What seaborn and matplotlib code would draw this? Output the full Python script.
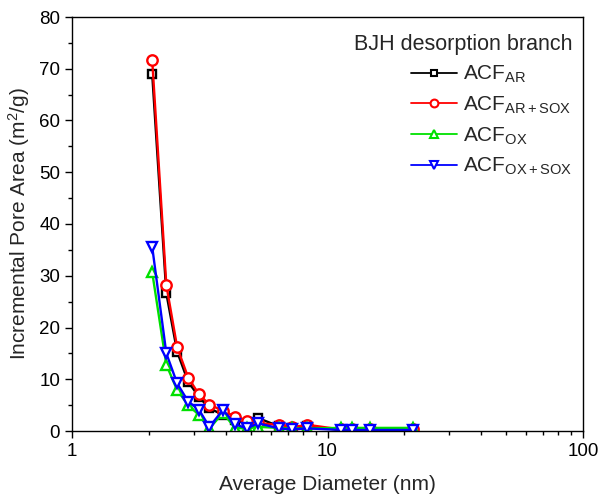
import numpy as np
import pandas as pd
import seaborn as sns
import matplotlib
matplotlib.use("Agg")
import matplotlib.pyplot as plt
from matplotlib.ticker import LogLocator, FixedLocator, FuncFormatter, MultipleLocator

# pore diameters (nm)
diameter = [2.06, 2.34, 2.58, 2.85, 3.14, 3.45, 3.90, 4.34, 4.84, 5.35,
            6.46, 7.24, 8.34, 11.3, 12.5, 14.7, 21.7]

# incremental pore area (m2/g)
acf_ar = [69.0, 26.6, 15.3, 9.5, 6.6, 4.4, 3.1, 2.2, 1.3, 2.5,
          0.9, 0.6, 0.9, 0.2, 0.2, 0.2, 0.2]
acf_ar_sox = [71.7, 28.2, 16.2, 10.3, 7.1, 5.1, 3.9, 2.8, 2.0, 1.5,
              1.2, 0.7, 1.2, 0.3, 0.3, 0.3, 0.3]
acf_ox = [30.7, 12.8, 7.9, 5.0, 3.1, 0.5, 3.5, 0.6, 0.5, 0.8,
          0.6, 0.5, 0.5, 0.6, 0.6, 0.6, 0.6]
acf_ox_sox = [35.6, 15.0, 9.2, 5.7, 4.1, 0.8, 4.1, 1.3, 0.5, 1.5,
              0.5, 0.3, 0.5, 0.2, 0.2, 0.2, 0.2]

labels = [r"ACF$_{\mathrm{AR}}$", r"ACF$_{\mathrm{AR+SOX}}$",
          r"ACF$_{\mathrm{OX}}$", r"ACF$_{\mathrm{OX+SOX}}$"]
colors = ["black", "red", "#00e000", "blue"]
markers = ["s", "o", "^", "v"]
msizes = [6, 7.5, 7.5, 7.5]

sns.set_style("ticks")
plt.rcParams["font.family"] = ["Liberation Sans", "DejaVu Sans"]
plt.rcParams["mathtext.fontset"] = "custom"
plt.rcParams["mathtext.rm"] = "Liberation Sans"
plt.rcParams["mathtext.it"] = "Liberation Sans:italic"
plt.rcParams["axes.linewidth"] = 1.0

fig = plt.figure(figsize=(6.01, 4.98), dpi=100)
ax = fig.add_axes([72 / 601, 1 - 431 / 498, (583 - 72) / 601, (431 - 17) / 498])

series = [acf_ar, acf_ar_sox, acf_ox, acf_ox_sox]
for ys, lab, c, m, ms in zip(series, labels, colors, markers, msizes):
    sns.lineplot(x=diameter, y=ys, ax=ax, color=c, marker=m, markersize=ms,
                 mfc="white", mec=c, mew=1.7, lw=1.7, label=lab,
                 sort=False, errorbar=None)

ax.set_xscale("log")
ax.set_xlim(1, 100)
ax.set_ylim(0, 80)
ax.xaxis.set_major_locator(FixedLocator([1, 10, 100]))
ax.xaxis.set_major_formatter(FuncFormatter(lambda v, p: f"{v:g}"))
ax.xaxis.set_minor_locator(LogLocator(base=10, subs=np.arange(2, 10)))
ax.xaxis.set_minor_formatter(plt.NullFormatter())
ax.yaxis.set_major_locator(MultipleLocator(10))
ax.yaxis.set_minor_locator(MultipleLocator(5))

ax.tick_params(which="both", direction="out", top=False, right=False,
               labelsize=13.5, colors="black", width=1.0)
ax.tick_params(which="major", length=5)
ax.tick_params(which="minor", length=3)
for s in ax.spines.values():
    s.set_visible(True)
    s.set_color("black")

ax.set_xlabel("Average Diameter (nm)", fontsize=15, labelpad=11)
ax.set_ylabel(r"Incremental Pore Area (m$^2$/g)", fontsize=15, labelpad=5)

leg = ax.legend(title="BJH desorption branch", frameon=False, fontsize=15,
                title_fontsize=15.5, loc="upper right", alignment="right",
                bbox_to_anchor=(1.012, 1.0),
                handlelength=2.2, handletextpad=0.3, labelspacing=0.45,
                borderaxespad=0.4, markerscale=0.75)
for h in leg.legend_handles:
    h.set_linewidth(1.3)
    h.set_markeredgewidth(1.5)

fig.savefig("out.png", dpi=100)
